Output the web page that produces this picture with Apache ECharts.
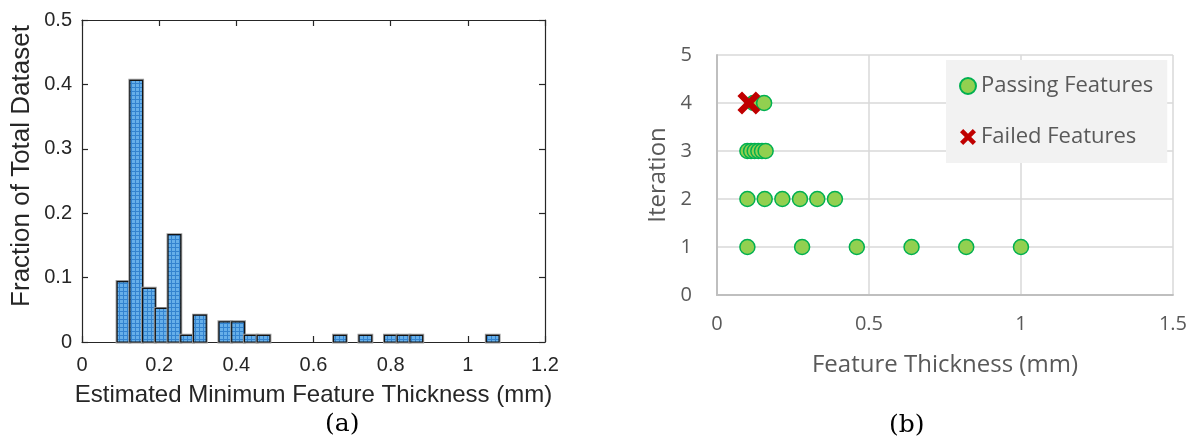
<!DOCTYPE html>
<html>
<head>
<meta charset="utf-8">
<script src="https://cdn.jsdelivr.net/npm/echarts@6/dist/echarts.min.js"></script>
<style>
html,body{margin:0;padding:0;background:#ffffff;}
#chart{width:1190px;height:441px;}
</style>
</head>
<body>
<div id="chart"></div>
<script>
// ---------- (a) histogram data ----------
const binLeft = [0.091, 0.124, 0.157, 0.190, 0.223, 0.256, 0.289, 0.355, 0.388, 0.421, 0.454, 0.652, 0.718, 0.784, 0.817, 0.850, 1.048];
const binWidth = 0.033;
const binFraction = [0.0938, 0.4063, 0.0833, 0.0521, 0.1667, 0.0104, 0.0417, 0.0313, 0.0313, 0.0104, 0.0104, 0.0104, 0.0104, 0.0104, 0.0104, 0.0104, 0.0104];

// ---------- (b) scatter data ----------
const passIter1 = [0.10, 0.28, 0.46, 0.64, 0.82, 1.00];
const passIter2 = [0.10, 0.157, 0.215, 0.273, 0.33, 0.388];
const passIter3 = [0.10, 0.112, 0.124, 0.136, 0.148, 0.16];
const passIter4 = [0.12, 0.155];
const failIter4 = [0.105];
const seriesNames = ['Passing Features', 'Failed Features'];
const captions = ['(a)', '(b)'];

// ---------- helpers ----------
const crossPath = 'path://M4,0 L10,6 L16,0 L20,4 L14,10 L20,16 L16,20 L10,14 L4,20 L0,16 L6,10 L0,4 Z';

function makePattern() {
  const c = document.createElement('canvas');
  c.width = 4; c.height = 4;
  const g = c.getContext('2d');
  g.fillStyle = '#66afe9';
  g.fillRect(0, 0, 4, 4);
  g.fillStyle = '#3383cf';
  g.fillRect(3, 0, 1, 4);
  g.fillRect(0, 3, 4, 1);
  return c;
}
const patternFill = { image: makePattern(), repeat: 'repeat' };

const histData = binLeft.map((l, i) => [l, +(l + binWidth).toFixed(4), binFraction[i]]);
const passData = [];
[passIter1, passIter2, passIter3, passIter4].forEach((arr, k) => {
  arr.forEach(x => passData.push([x, k + 1]));
});
const failData = failIter4.map(x => [x, 4]);

const leftFont = 'Liberation Sans, Arial, sans-serif';
const rightFont = 'Open Sans, sans-serif';
const darkText = '#262626';
const grayText = '#595959';

const chart = echarts.init(document.getElementById('chart'), null, { renderer: 'canvas' });

const option = {
  animation: false,
  backgroundColor: '#ffffff',
  grid: [
    { left: 82, top: 20, width: 463, height: 322, show: false },
    { left: 717, top: 55, width: 456, height: 240, show: false }
  ],
  xAxis: [
    {
      type: 'value', gridIndex: 0, position: 'bottom', min: 0, max: 1.2, interval: 0.2,
      name: 'Estimated Minimum Feature Thickness (mm)', nameLocation: 'middle', nameGap: 41,
      nameTextStyle: { fontSize: 24, color: darkText, fontFamily: leftFont },
      axisLine: { show: true, lineStyle: { color: darkText, width: 1.2 } },
      axisTick: { show: true, inside: true, length: 6, lineStyle: { color: darkText, width: 1.2 } },
      axisLabel: { fontSize: 20, color: darkText, fontFamily: leftFont, margin: 13,
        formatter: v => String(+v.toFixed(1)) },
      splitLine: { show: false }
    },
    {
      type: 'value', gridIndex: 0, position: 'top', min: 0, max: 1.2, interval: 0.2,
      axisLine: { show: true, onZero: false, lineStyle: { color: darkText, width: 1.2 } },
      axisTick: { show: true, inside: true, length: 6, lineStyle: { color: darkText, width: 1.2 } },
      axisLabel: { show: false },
      splitLine: { show: false }
    },
    {
      type: 'value', gridIndex: 1, position: 'bottom', min: 0, max: 1.5, interval: 0.5,
      name: 'Feature Thickness (mm)', nameLocation: 'middle', nameGap: 58,
      nameTextStyle: { fontSize: 24, color: grayText, fontFamily: rightFont },
      axisLine: { show: true, lineStyle: { color: '#bfbfbf', width: 2 } },
      axisTick: { show: false },
      axisLabel: { fontSize: 20, color: grayText, fontFamily: rightFont, margin: 19,
        formatter: v => String(+v.toFixed(1)) },
      splitLine: { show: true, lineStyle: { color: '#d9d9d9', width: 1.5 } }
    }
  ],
  yAxis: [
    {
      type: 'value', gridIndex: 0, position: 'left', min: 0, max: 0.5, interval: 0.1,
      name: 'Fraction of Total Dataset', nameLocation: 'middle', nameGap: 47,
      nameTextStyle: { fontSize: 26, color: darkText, fontFamily: leftFont, padding: [0, 0, 0, 30] },
      axisLine: { show: true, lineStyle: { color: darkText, width: 1.2 } },
      axisTick: { show: true, inside: true, length: 6, lineStyle: { color: darkText, width: 1.2 } },
      axisLabel: { fontSize: 20, color: darkText, fontFamily: leftFont, margin: 10,
        formatter: v => String(+v.toFixed(1)) },
      splitLine: { show: false }
    },
    {
      type: 'value', gridIndex: 0, position: 'right', min: 0, max: 0.5, interval: 0.1,
      axisLine: { show: true, onZero: false, lineStyle: { color: darkText, width: 1.2 } },
      axisTick: { show: true, inside: true, length: 6, lineStyle: { color: darkText, width: 1.2 } },
      axisLabel: { show: false },
      splitLine: { show: false }
    },
    {
      type: 'value', gridIndex: 1, position: 'left', min: 0, max: 5, interval: 1,
      name: 'Iteration', nameLocation: 'middle', nameGap: 47,
      nameTextStyle: { fontSize: 24, color: grayText, fontFamily: rightFont },
      axisLine: { show: true, lineStyle: { color: '#bfbfbf', width: 2 } },
      axisTick: { show: false },
      axisLabel: { fontSize: 20, color: grayText, fontFamily: rightFont, margin: 25 },
      splitLine: { show: true, lineStyle: { color: '#d9d9d9', width: 1.5 } }
    }
  ],
  legend: {
    orient: 'vertical', left: 946, top: 60,
    backgroundColor: '#f2f2f2',
    padding: [15, 14, 15, 13],
    itemGap: 29, itemWidth: 16, itemHeight: 16,
    textStyle: { fontSize: 22, color: grayText, fontFamily: rightFont },
    data: [
      { name: seriesNames[0], icon: 'circle' },
      { name: seriesNames[1], icon: crossPath }
    ]
  },
  graphic: [
    { type: 'text', left: 343 - 18, top: 412,
      style: { text: captions[0], fontSize: 25, fontFamily: 'DejaVu Serif, serif', fill: '#000' } },
    { type: 'text', left: 907 - 18, top: 413,
      style: { text: captions[1], fontSize: 25, fontFamily: 'DejaVu Serif, serif', fill: '#000' } }
  ],
  series: [
    {
      type: 'custom', xAxisIndex: 0, yAxisIndex: 0,
      data: histData,
      encode: { x: [0, 1], y: 2 },
      renderItem: function (params, api) {
        const p0 = api.coord([api.value(0), api.value(2)]);
        const p1 = api.coord([api.value(1), 0]);
        const shape = { x: p0[0], y: p0[1], width: p1[0] - p0[0], height: p1[1] - p0[1] };
        return {
          type: 'group',
          children: [
            { type: 'rect', shape: shape, style: { fill: 'none', stroke: '#9c9c9c', lineWidth: 3 } },
            { type: 'rect', shape: shape, style: { fill: patternFill, stroke: '#141414', lineWidth: 1.2 } }
          ]
        };
      },
      z: 2
    },
    {
      name: seriesNames[0], type: 'scatter', xAxisIndex: 2, yAxisIndex: 2,
      symbol: 'circle', symbolSize: 15,
      itemStyle: { color: '#92d050', borderColor: '#00b050', borderWidth: 1.5, opacity: 1 },
      data: passData, z: 3
    },
    {
      name: seriesNames[1], type: 'scatter', xAxisIndex: 2, yAxisIndex: 2,
      symbol: crossPath, symbolSize: 23,
      itemStyle: { color: '#c00000', opacity: 1 },
      data: failData, z: 4
    }
  ]
};
chart.setOption(option);
</script>
</body>
</html>
